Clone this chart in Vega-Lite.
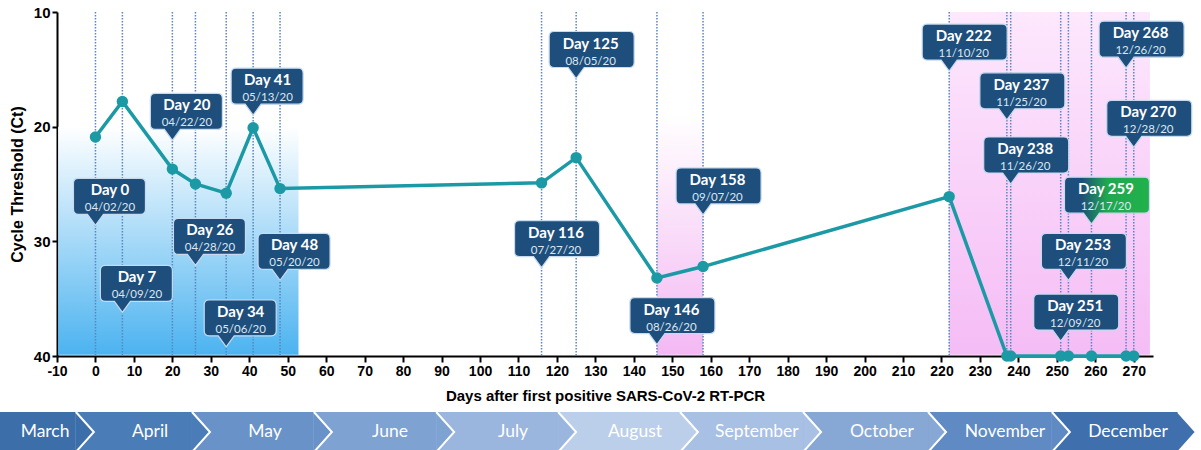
{
  "$schema": "https://vega.github.io/schema/vega-lite/v6.json",
  "width": 1096,
  "height": 344,
  "autosize": {"type": "none"},
  "padding": {"left": 57, "top": 12, "right": 48, "bottom": 94},
  "background": "white",
  "config": {
    "view": {"stroke": null},
    "font": "Liberation Sans",
    "axis": {
      "domainColor": "black", "domainWidth": 2, "tickColor": "black", "tickWidth": 2,
      "labelFont": "Liberation Sans", "labelFontWeight": "bold", "labelColor": "black",
      "titleFont": "Liberation Sans", "titleFontWeight": "bold", "titleColor": "black",
      "grid": false, "labelFlush": false, "labelOverlap": false
    }
  },
  "datasets": {
    "events": [
      {"day": 0, "ct": 20.9, "tipCt": 28.6, "label": "Day 0", "date": "04/02/20"},
      {"day": 7, "ct": 17.8, "tipCt": 36.2, "label": "Day 7", "date": "04/09/20"},
      {"day": 20, "ct": 23.7, "tipCt": 21.2, "label": "Day 20", "date": "04/22/20"},
      {"day": 26, "ct": 25.0, "tipCt": 32.1, "label": "Day 26", "date": "04/28/20"},
      {"day": 34, "ct": 25.8, "tipCt": 39.2, "label": "Day 34", "date": "05/06/20"},
      {"day": 41, "ct": 20.1, "tipCt": 19.0, "label": "Day 41", "date": "05/13/20"},
      {"day": 48, "ct": 25.4, "tipCt": 33.4, "label": "Day 48", "date": "05/20/20"},
      {"day": 116, "ct": 24.9, "tipCt": 32.3, "label": "Day 116", "date": "07/27/20"},
      {"day": 125, "ct": 22.7, "tipCt": 15.8, "label": "Day 125", "date": "08/05/20"},
      {"day": 146, "ct": 33.2, "tipCt": 39.0, "label": "Day 146", "date": "08/26/20"},
      {"day": 158, "ct": 32.2, "tipCt": 27.7, "label": "Day 158", "date": "09/07/20"},
      {"day": 222, "ct": 26.1, "tipCt": 15.15, "label": "Day 222", "date": "11/10/20"},
      {"day": 237, "ct": 40, "tipCt": 19.4, "label": "Day 237", "date": "11/25/20"},
      {"day": 238, "ct": 40, "tipCt": 25.0, "label": "Day 238", "date": "11/26/20"},
      {"day": 251, "ct": 40, "tipCt": 38.7, "label": "Day 251", "date": "12/09/20"},
      {"day": 253, "ct": 40, "tipCt": 33.4, "label": "Day 253", "date": "12/11/20"},
      {"day": 259, "ct": 40, "tipCt": 28.5, "label": "Day 259", "date": "12/17/20"},
      {"day": 268, "ct": 40, "tipCt": 14.9, "label": "Day 268", "date": "12/26/20"},
      {"day": 270, "ct": 40, "tipCt": 21.8, "label": "Day 270", "date": "12/28/20"}
    ],
    "shading": [
      {"zone": "blue", "start": -9.7, "end": 52.8, "top": 20, "bottom": 39.9},
      {"zone": "pink1", "start": 146, "end": 158, "top": 10, "bottom": 39.9},
      {"zone": "pink2", "start": 222, "end": 274.2, "top": 10, "bottom": 39.9}
    ],
    "months": [
      {"month": "March", "start": -25.5, "end": -5.1, "mid": -13.1},
      {"month": "April", "start": -5.1, "end": 25.1, "mid": 14.2},
      {"month": "May", "start": 25.1, "end": 56.8, "mid": 44.1},
      {"month": "June", "start": 56.8, "end": 88.6, "mid": 76.6},
      {"month": "July", "start": 88.6, "end": 120.3, "mid": 108.6},
      {"month": "August", "start": 120.3, "end": 152.0, "mid": 140.3},
      {"month": "September", "start": 152.0, "end": 184.0, "mid": 172.0},
      {"month": "October", "start": 184.0, "end": 216.5, "mid": 204.5},
      {"month": "November", "start": 216.5, "end": 248.7, "mid": 236.5},
      {"month": "December", "start": 248.7, "end": 281.5, "mid": 268.5}
    ]
  },
  "layer": [
    {
      "data": {"name": "shading"},
      "transform": [{"filter": "datum.zone === 'blue'"}],
      "mark": {"type": "rect", "fill": {"gradient": "linear", "x1": 0, "y1": 0, "x2": 0, "y2": 1, "stops": [{"offset": 0, "color": "#ffffff"}, {"offset": 1, "color": "#4cb3f0"}]}},
      "encoding": {
        "x": {"field": "start", "type": "quantitative", "scale": {"domain": [-10, 275], "nice": false, "zero": false},
          "axis": {"values": [-10,0,10,20,30,40,50,60,70,80,90,100,110,120,130,140,150,160,170,180,190,200,210,220,230,240,250,260,270],
            "labelExpr": "replace(datum.label, '\u2212', '-')",
            "tickCount": 60, "labelOverlap": false, "labelSeparation": 0, "labelBound": false, "labelFlush": false,
            "tickSize": 6, "labelFontSize": 14, "labelPadding": 2, "titleFontSize": 15, "titlePadding": 10,
            "title": "Days after first positive SARS-CoV-2 RT-PCR"}},
        "x2": {"field": "end"},
        "y": {"field": "top", "type": "quantitative", "scale": {"domain": [10, 40], "nice": false, "zero": false, "reverse": true},
          "axis": {"values": [10, 20, 30, 40], "tickCount": 10, "labelOverlap": false, "tickSize": 5, "labelFontSize": 15, "labelPadding": 2, "titleFontSize": 16, "titlePadding": 8,
            "title": "Cycle Threshold (Ct)"}},
        "y2": {"field": "bottom"}
      }
    },
    {
      "data": {"name": "shading"},
      "transform": [{"filter": "datum.zone === 'pink1'"}],
      "mark": {"type": "rect", "fill": {"gradient": "linear", "x1": 0, "y1": 0, "x2": 0, "y2": 1, "stops": [{"offset": 0, "color": "#ffffff"}, {"offset": 0.3, "color": "#ffffff"}, {"offset": 1, "color": "#f3b8f3"}]}},
      "encoding": {
        "x": {"field": "start", "type": "quantitative", "scale": {"domain": [-10, 275], "nice": false, "zero": false}},
        "x2": {"field": "end"},
        "y": {"field": "top", "type": "quantitative", "scale": {"domain": [10, 40], "nice": false, "zero": false, "reverse": true}},
        "y2": {"field": "bottom"}
      }
    },
    {
      "data": {"name": "shading"},
      "transform": [{"filter": "datum.zone === 'pink2'"}],
      "mark": {"type": "rect", "fill": {"gradient": "linear", "x1": 0, "y1": 0, "x2": 0, "y2": 1, "stops": [{"offset": 0, "color": "#fde8fd"}, {"offset": 1, "color": "#f5bcf5"}]}},
      "encoding": {
        "x": {"field": "start", "type": "quantitative", "scale": {"domain": [-10, 275], "nice": false, "zero": false}},
        "x2": {"field": "end"},
        "y": {"field": "top", "type": "quantitative", "scale": {"domain": [10, 40], "nice": false, "zero": false, "reverse": true}},
        "y2": {"field": "bottom"}
      }
    },
    {
      "data": {"name": "events"},
      "mark": {"type": "rule", "color": "#5b86c0", "strokeWidth": 1.5, "strokeDash": [1.5, 1.5]},
      "encoding": {
        "x": {"field": "day", "type": "quantitative", "scale": {"domain": [-10, 275], "nice": false, "zero": false}},
        "y": {"datum": 10, "type": "quantitative", "scale": {"domain": [10, 40], "nice": false, "zero": false, "reverse": true}},
        "y2": {"datum": 40}
      }
    },
    {
      "data": {"name": "events"},
      "mark": {"type": "line", "color": "#1b9aa6", "strokeWidth": 3.5},
      "encoding": {
        "x": {"field": "day", "type": "quantitative", "scale": {"domain": [-10, 275], "nice": false, "zero": false}},
        "y": {"field": "ct", "type": "quantitative", "scale": {"domain": [10, 40], "nice": false, "zero": false, "reverse": true}}
      }
    },
    {
      "data": {"name": "events"},
      "mark": {"type": "circle", "color": "#1b9aa6", "size": 130, "opacity": 1},
      "encoding": {
        "x": {"field": "day", "type": "quantitative", "scale": {"domain": [-10, 275], "nice": false, "zero": false}},
        "y": {"field": "ct", "type": "quantitative", "scale": {"domain": [10, 40], "nice": false, "zero": false, "reverse": true}}
      }
    },
    {
      "data": {"name": "events"},
      "transform": [{"filter": "datum.day !== 259"}],
      "mark": {"type": "point", "filled": true, "fill": "#1e4e7b", "stroke": "#c6daf0", "strokeWidth": 1.2, "opacity": 1, "size": 10000},
      "encoding": {
        "x": {"field": "day", "type": "quantitative", "scale": {"domain": [-10, 275], "nice": false, "zero": false}},
        "y": {"field": "tipCt", "type": "quantitative", "scale": {"domain": [10, 40], "nice": false, "zero": false, "reverse": true}},
        "shape": {
          "condition": {"test": "datum.day >= 100", "value": "M -0.44 -0.94 L 1.06 -0.94 Q 1.16 -0.94 1.16 -0.84 L 1.16 -0.32 Q 1.16 -0.22 1.06 -0.22 L 0.16 -0.22 L 0 0 L -0.16 -0.22 L -0.44 -0.22 Q -0.54 -0.22 -0.54 -0.32 L -0.54 -0.84 Q -0.54 -0.94 -0.44 -0.94 Z"},
          "value": "M -0.34 -0.94 L 0.9 -0.94 Q 1 -0.94 1 -0.84 L 1 -0.32 Q 1 -0.22 0.9 -0.22 L 0.16 -0.22 L 0 0 L -0.16 -0.22 L -0.34 -0.22 Q -0.44 -0.22 -0.44 -0.32 L -0.44 -0.84 Q -0.44 -0.94 -0.34 -0.94 Z"
        }
      }
    },
    {
      "data": {"name": "events"},
      "transform": [{"filter": "datum.day === 259"}],
      "mark": {"type": "point", "filled": true, "fill": {"gradient": "linear", "x1": 0, "y1": 0, "x2": 1, "y2": 0, "stops": [{"offset": 0, "color": "#1e4e7b"}, {"offset": 0.2, "color": "#1e4e7b"}, {"offset": 0.5, "color": "#1fa84f"}, {"offset": 1, "color": "#22b14c"}]}, "stroke": "#c6daf0", "strokeWidth": 1.2, "opacity": 1, "size": 10000,
        "shape": "M -0.44 -0.94 L 1.06 -0.94 Q 1.16 -0.94 1.16 -0.84 L 1.16 -0.32 Q 1.16 -0.22 1.06 -0.22 L 0.16 -0.22 L 0 0 L -0.16 -0.22 L -0.44 -0.22 Q -0.54 -0.22 -0.54 -0.32 L -0.54 -0.84 Q -0.54 -0.94 -0.44 -0.94 Z"},
      "encoding": {
        "x": {"field": "day", "type": "quantitative", "scale": {"domain": [-10, 275], "nice": false, "zero": false}},
        "y": {"field": "tipCt", "type": "quantitative", "scale": {"domain": [10, 40], "nice": false, "zero": false, "reverse": true}}
      }
    },
    {
      "data": {"name": "events"},
      "mark": {"type": "text", "font": "Lato", "fontWeight": "bold", "fontSize": 15, "color": "white", "align": "center", "baseline": "middle", "dx": 14.5, "dy": -35},
      "encoding": {
        "x": {"field": "day", "type": "quantitative", "scale": {"domain": [-10, 275], "nice": false, "zero": false}},
        "y": {"field": "tipCt", "type": "quantitative", "scale": {"domain": [10, 40], "nice": false, "zero": false, "reverse": true}},
        "text": {"field": "label"}
      }
    },
    {
      "data": {"name": "events"},
      "mark": {"type": "text", "font": "Lato", "fontSize": 11.5, "color": "#dbe7f4", "align": "center", "baseline": "middle", "dx": 14.5, "dy": -17},
      "encoding": {
        "x": {"field": "day", "type": "quantitative", "scale": {"domain": [-10, 275], "nice": false, "zero": false}},
        "y": {"field": "tipCt", "type": "quantitative", "scale": {"domain": [10, 40], "nice": false, "zero": false, "reverse": true}},
        "text": {"field": "date"}
      }
    },
    {
      "data": {"name": "months"},
      "mark": {"type": "rect"},
      "encoding": {
        "x": {"field": "start", "type": "quantitative", "scale": {"domain": [-10, 275], "nice": false, "zero": false}},
        "x2": {"field": "end"},
        "y": {"datum": 44.88, "type": "quantitative", "scale": {"domain": [10, 40], "nice": false, "zero": false, "reverse": true}},
        "y2": {"datum": 48.5},
        "color": {"field": "month", "type": "nominal", "legend": null,
          "scale": {"domain": ["March","April","May","June","July","August","September","October","November","December"],
                    "range": ["#3c6ea9","#4a7cb8","#6892c8","#7ea2d1","#9ab6de","#bccfea","#a8c0e3","#87a8d5","#5f8ac3","#3f6fad"]}}
      }
    },
    {
      "data": {"name": "months"},
      "mark": {"type": "point", "filled": true, "opacity": 1, "size": 10000, "stroke": "white", "strokeWidth": 2, "shape": "M 0 -0.4 L 0.36 0 L 0 0.4"},
      "encoding": {
        "x": {"field": "end", "type": "quantitative", "scale": {"domain": [-10, 275], "nice": false, "zero": false}},
        "y": {"datum": 46.63, "type": "quantitative", "scale": {"domain": [10, 40], "nice": false, "zero": false, "reverse": true}},
        "color": {"field": "month", "type": "nominal", "legend": null,
          "scale": {"domain": ["March","April","May","June","July","August","September","October","November","December"],
                    "range": ["#3c6ea9","#4a7cb8","#6892c8","#7ea2d1","#9ab6de","#bccfea","#a8c0e3","#87a8d5","#5f8ac3","#3f6fad"]}}
      }
    },
    {
      "data": {"name": "months"},
      "mark": {"type": "text", "font": "Lato", "fontSize": 17.5, "color": "white", "align": "center", "baseline": "middle"},
      "encoding": {
        "x": {"field": "mid", "type": "quantitative", "scale": {"domain": [-10, 275], "nice": false, "zero": false}},
        "y": {"datum": 46.63, "type": "quantitative", "scale": {"domain": [10, 40], "nice": false, "zero": false, "reverse": true}},
        "text": {"field": "month"}
      }
    }
  ]
}
